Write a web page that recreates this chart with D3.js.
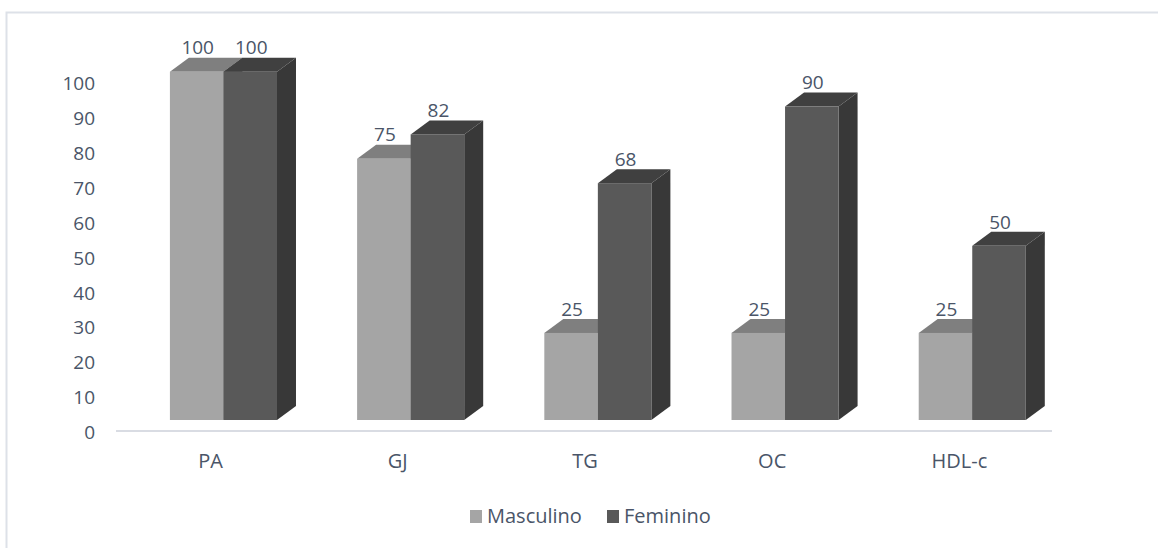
<!DOCTYPE html>
<html>
<head>
<meta charset="utf-8">
<script src="https://cdn.jsdelivr.net/npm/d3@7"></script>
<style>
  body { margin: 0; background: #fff; }
  text { font-family: "Open Sans", sans-serif; fill: #4a5568; }
</style>
</head>
<body>
<div id="chart"></div>
<script>
// data
const categories = ["PA", "GJ", "TG", "OC", "HDL-c"];
const seriesNames = ["Masculino", "Feminino"];
const masculino = [100, 75, 25, 25, 25];
const feminino = [100, 82, 68, 90, 50];
const yTicks = [0, 10, 20, 30, 40, 50, 60, 70, 80, 90, 100];

const width = 1158, height = 548;

// colours per series: front, top, side
const colors = [
    {front: "#a5a5a5", top: "#7f7f7f", side: "#6e6e6e"},
    {front: "#595959", top: "#404040", side: "#383838"}
];

// depth offset of the 3d bars
const dx = 19, dy = 14;

const svg = d3.select("#chart").append("svg")
    .attr("width", width)
    .attr("height", height);

// chart border
svg.append("rect")
    .attr("x", 6.5).attr("y", 12.5)
    .attr("width", width + 10).attr("height", height + 10)
    .attr("fill", "none")
    .attr("stroke", "#dde1e8")
    .attr("stroke-width", 2);

const x = d3.scaleBand()
    .domain(categories)
    .range([116, 1052]);

// bars are drawn on the front plane, the axis labels on the floor plane
const y = d3.scaleLinear().domain([0, 100]).range([420, 71.7]);
const yAxisScale = d3.scaleLinear().domain([0, 100]).range([432, 83]);

// y axis labels
const yAxis = d3.axisLeft(yAxisScale)
    .tickValues(yTicks)
    .tickSize(0)
    .tickPadding(0);

svg.append("g")
    .attr("transform", "translate(95,0)")
    .call(yAxis)
    .call(g => g.select(".domain").remove())
    .selectAll("text")
    .style("font-size", "19px")
    .attr("font-family", null)
    .attr("dy", "0.35em");

// floor line
svg.append("line")
    .attr("x1", 116).attr("x2", 1052)
    .attr("y1", 431).attr("y2", 431)
    .attr("stroke", "#d9dce3")
    .attr("stroke-width", 2);

// category labels
svg.append("g").selectAll("text")
    .data(categories)
    .join("text")
    .attr("x", d => x(d) + x.bandwidth() / 2 + 1)
    .attr("y", 461)
    .attr("dy", "0.35em")
    .attr("text-anchor", "middle")
    .style("font-size", "20px")
    .text(d => d);

// build bar data
const barData = [];
categories.forEach((c, i) => {
    [masculino, feminino].forEach((s, j) => {
        barData.push({cat: c, series: j, value: s[i]});
    });
});

const barW = x.bandwidth() * 0.286;
const barOffset = x.bandwidth() * 0.288;

const bars = svg.append("g").selectAll("g")
    .data(barData)
    .join("g");

bars.each(function (d) {
    const g = d3.select(this);
    const x0 = x(d.cat) + barOffset + d.series * barW;
    const x1 = x0 + barW;
    const yTop = y(d.value);
    const yBot = y(0);
    const col = colors[d.series];

    // side face
    g.append("polygon")
        .attr("points", [[x1, yTop], [x1 + dx, yTop - dy], [x1 + dx, yBot - dy], [x1, yBot]].join(" "))
        .attr("fill", col.side);

    // top face
    g.append("polygon")
        .attr("points", [[x0, yTop], [x0 + dx, yTop - dy], [x1 + dx, yTop - dy], [x1, yTop]].join(" "))
        .attr("fill", col.top);

    // front face
    g.append("rect")
        .attr("x", x0).attr("y", yTop)
        .attr("width", barW).attr("height", yBot - yTop)
        .attr("fill", col.front);

    // value label
    g.append("text")
        .attr("x", (x0 + x1) / 2 + 1)
        .attr("y", yTop - 24)
        .attr("dy", "0.35em")
        .attr("text-anchor", "middle")
        .style("font-size", "19px")
        .text(d.value);
});

// legend
const legend = svg.append("g");
const legendX = [470, 607];
seriesNames.forEach((name, i) => {
    legend.append("rect")
        .attr("x", legendX[i]).attr("y", 510)
        .attr("width", 12).attr("height", 13)
        .attr("fill", colors[i].front);
    legend.append("text")
        .attr("x", legendX[i] + 17)
        .attr("y", 516)
        .attr("dy", "0.35em")
        .style("font-size", "20px")
        .text(name);
});
</script>
</body>
</html>
